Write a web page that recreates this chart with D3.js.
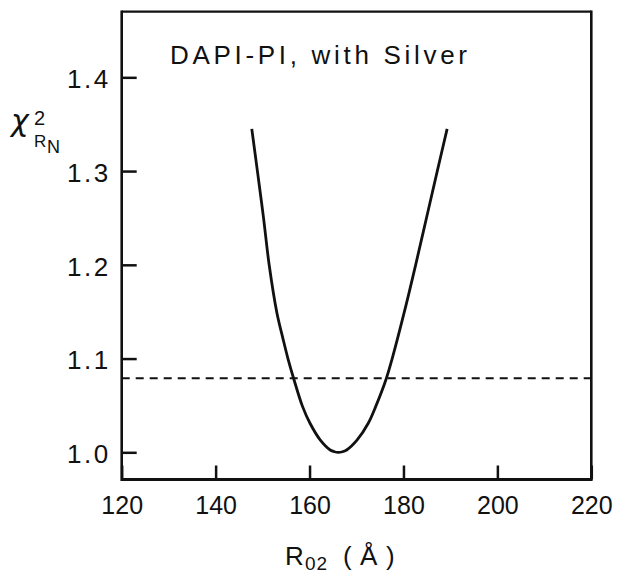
<!DOCTYPE html>
<html>
<head>
<meta charset="utf-8">
<script src="https://cdn.jsdelivr.net/npm/d3@7"></script>
<style>
  html, body { margin: 0; padding: 0; background: #fff; }
  svg { display: block; }
  text { font-family: "Liberation Sans", Arial, sans-serif; fill: #111; }
</style>
</head>
<body>
<svg id="chart" width="618" height="575"></svg>
<script>
// ---- data ----
const xTicks = [120, 140, 160, 180, 200, 220];
const yTicks = [1.0, 1.1, 1.2, 1.3, 1.4];
const xDomain = [120, 220];
const yDomain = [0.971, 1.470];

// chi^2_RN versus R02 (Å)
const rValues = [147.7, 148.9, 150.2, 151.4, 153.0, 154.4, 155.4, 156.6, 158.5, 160.1, 162.3, 164.4, 165.3, 166.1,
                 167.0, 167.9, 170.1, 172.5, 174.1, 176.3, 177.6, 180.2, 182.6, 184.9, 187.2, 189.3];
const chiValues = [1.345, 1.300, 1.250, 1.200, 1.150, 1.120, 1.100, 1.079, 1.049, 1.031, 1.013, 1.0025, 1.0006, 1.000,
                   1.0006, 1.0025, 1.013, 1.031, 1.049, 1.078, 1.100, 1.150, 1.200, 1.250, 1.300, 1.345];

// dashed threshold line
const thresholdR = [120, 220];
const thresholdChi = [1.079, 1.079];

const titleText = "DAPI-PI, with  Silver";

// ---- drawing ----
const svg = d3.select("#chart");
const pLeft = 121.7, pRight = 591.3, pTop = 11.7, pBottom = 479.5;

const x = d3.scaleLinear().domain(xDomain).range([pLeft, pRight]);
const y = d3.scaleLinear().domain(yDomain).range([pBottom, pTop]);

const ink = "#111";

// curve
const pts = rValues.map((r, i) => [r, chiValues[i]]);
svg.append("path")
  .datum(pts)
  .attr("fill", "none")
  .attr("stroke", ink)
  .attr("stroke-width", 2.8)
  .attr("stroke-linejoin", "round")
  .attr("d", d3.line().x(d => x(d[0])).y(d => y(d[1])).curve(d3.curveCatmullRom.alpha(0.5)));

// dashed line
svg.append("path")
  .datum(thresholdR.map((r, i) => [r, thresholdChi[i]]))
  .attr("fill", "none")
  .attr("stroke", ink)
  .attr("stroke-width", 2.2)
  .attr("stroke-dasharray", "8,6")
  .attr("d", d3.line().x(d => x(d[0])).y(d => y(d[1])));

// bottom axis
const gx = svg.append("g")
  .attr("transform", `translate(0,${pBottom})`)
  .call(d3.axisBottom(x).tickValues(xTicks).tickFormat(d3.format("d"))
        .tickSizeInner(-14).tickSizeOuter(0));
gx.select(".domain").remove();
gx.selectAll(".tick line").attr("stroke", ink).attr("stroke-width", 2.5);
gx.selectAll(".tick text")
  .attr("y", 34.5).attr("dy", 0)
  .style("font-size", "25px")
  .style("font-family", "Liberation Sans, Arial, sans-serif")
  .attr("fill", ink);

// left axis
const gy = svg.append("g")
  .attr("transform", `translate(${pLeft},0)`)
  .call(d3.axisLeft(y).tickValues(yTicks).tickFormat(d3.format(".1f"))
        .tickSizeInner(-15).tickSizeOuter(0).tickPadding(11));
gy.select(".domain").remove();
gy.selectAll(".tick line").attr("stroke", ink).attr("stroke-width", 2.5);
gy.selectAll(".tick text")
  .attr("dy", "0.4em")
  .style("font-size", "26px")
  .style("letter-spacing", "2.5px")
  .style("font-family", "Liberation Sans, Arial, sans-serif")
  .attr("fill", ink);

// frame
svg.append("line").attr("x1", x(xDomain[0])).attr("x2", x(xDomain[1]))
  .attr("y1", y(yDomain[1])).attr("y2", y(yDomain[1]))
  .attr("stroke", ink).attr("stroke-width", 2.2);
svg.append("line").attr("x1", x(xDomain[0])).attr("x2", x(xDomain[1]))
  .attr("y1", y(yDomain[0])).attr("y2", y(yDomain[0]))
  .attr("stroke", ink).attr("stroke-width", 3);
svg.append("line").attr("x1", x(xDomain[0])).attr("x2", x(xDomain[0]))
  .attr("y1", y(yDomain[1]) - 1.1).attr("y2", y(yDomain[0]) + 1.5)
  .attr("stroke", ink).attr("stroke-width", 2.6);
svg.append("line").attr("x1", x(xDomain[1])).attr("x2", x(xDomain[1]))
  .attr("y1", y(yDomain[1]) - 1.1).attr("y2", y(yDomain[0]) + 1.5)
  .attr("stroke", ink).attr("stroke-width", 2.6);

// title inside plot
svg.append("text")
  .attr("x", 170).attr("y", 64)
  .attr("textLength", 297).attr("lengthAdjust", "spacing")
  .style("font-size", "26px")
  .text(titleText);

// y-axis label: chi^2 with subscript R_N
const yl = svg.append("g");
yl.append("text").attr("x", 11).attr("y", 131)
  .style("font-size", "30px").style("font-style", "italic")
  .style("font-family", "DejaVu Sans, sans-serif").text("\u03C7");
yl.append("text").attr("x", 34).attr("y", 125).style("font-size", "20px").text("2");
yl.append("text").attr("x", 34).attr("y", 147).style("font-size", "17px").text("R");
yl.append("text").attr("x", 47).attr("y", 153).style("font-size", "18px").text("N");

// x-axis label: R02 (Å)
const xl = svg.append("g");
xl.append("text").attr("x", 285).attr("y", 565).style("font-size", "26px").text("R");
xl.append("text").attr("x", 305).attr("y", 570).style("font-size", "19px")
  .style("letter-spacing", "1px").text("02");
xl.append("text").attr("x", 343).attr("y", 565).style("font-size", "26px").text("(");
xl.append("text").attr("x", 360).attr("y", 565).style("font-size", "26px").text("\u00C5");
xl.append("text").attr("x", 386).attr("y", 565).style("font-size", "26px").text(")");
</script>
</body>
</html>
